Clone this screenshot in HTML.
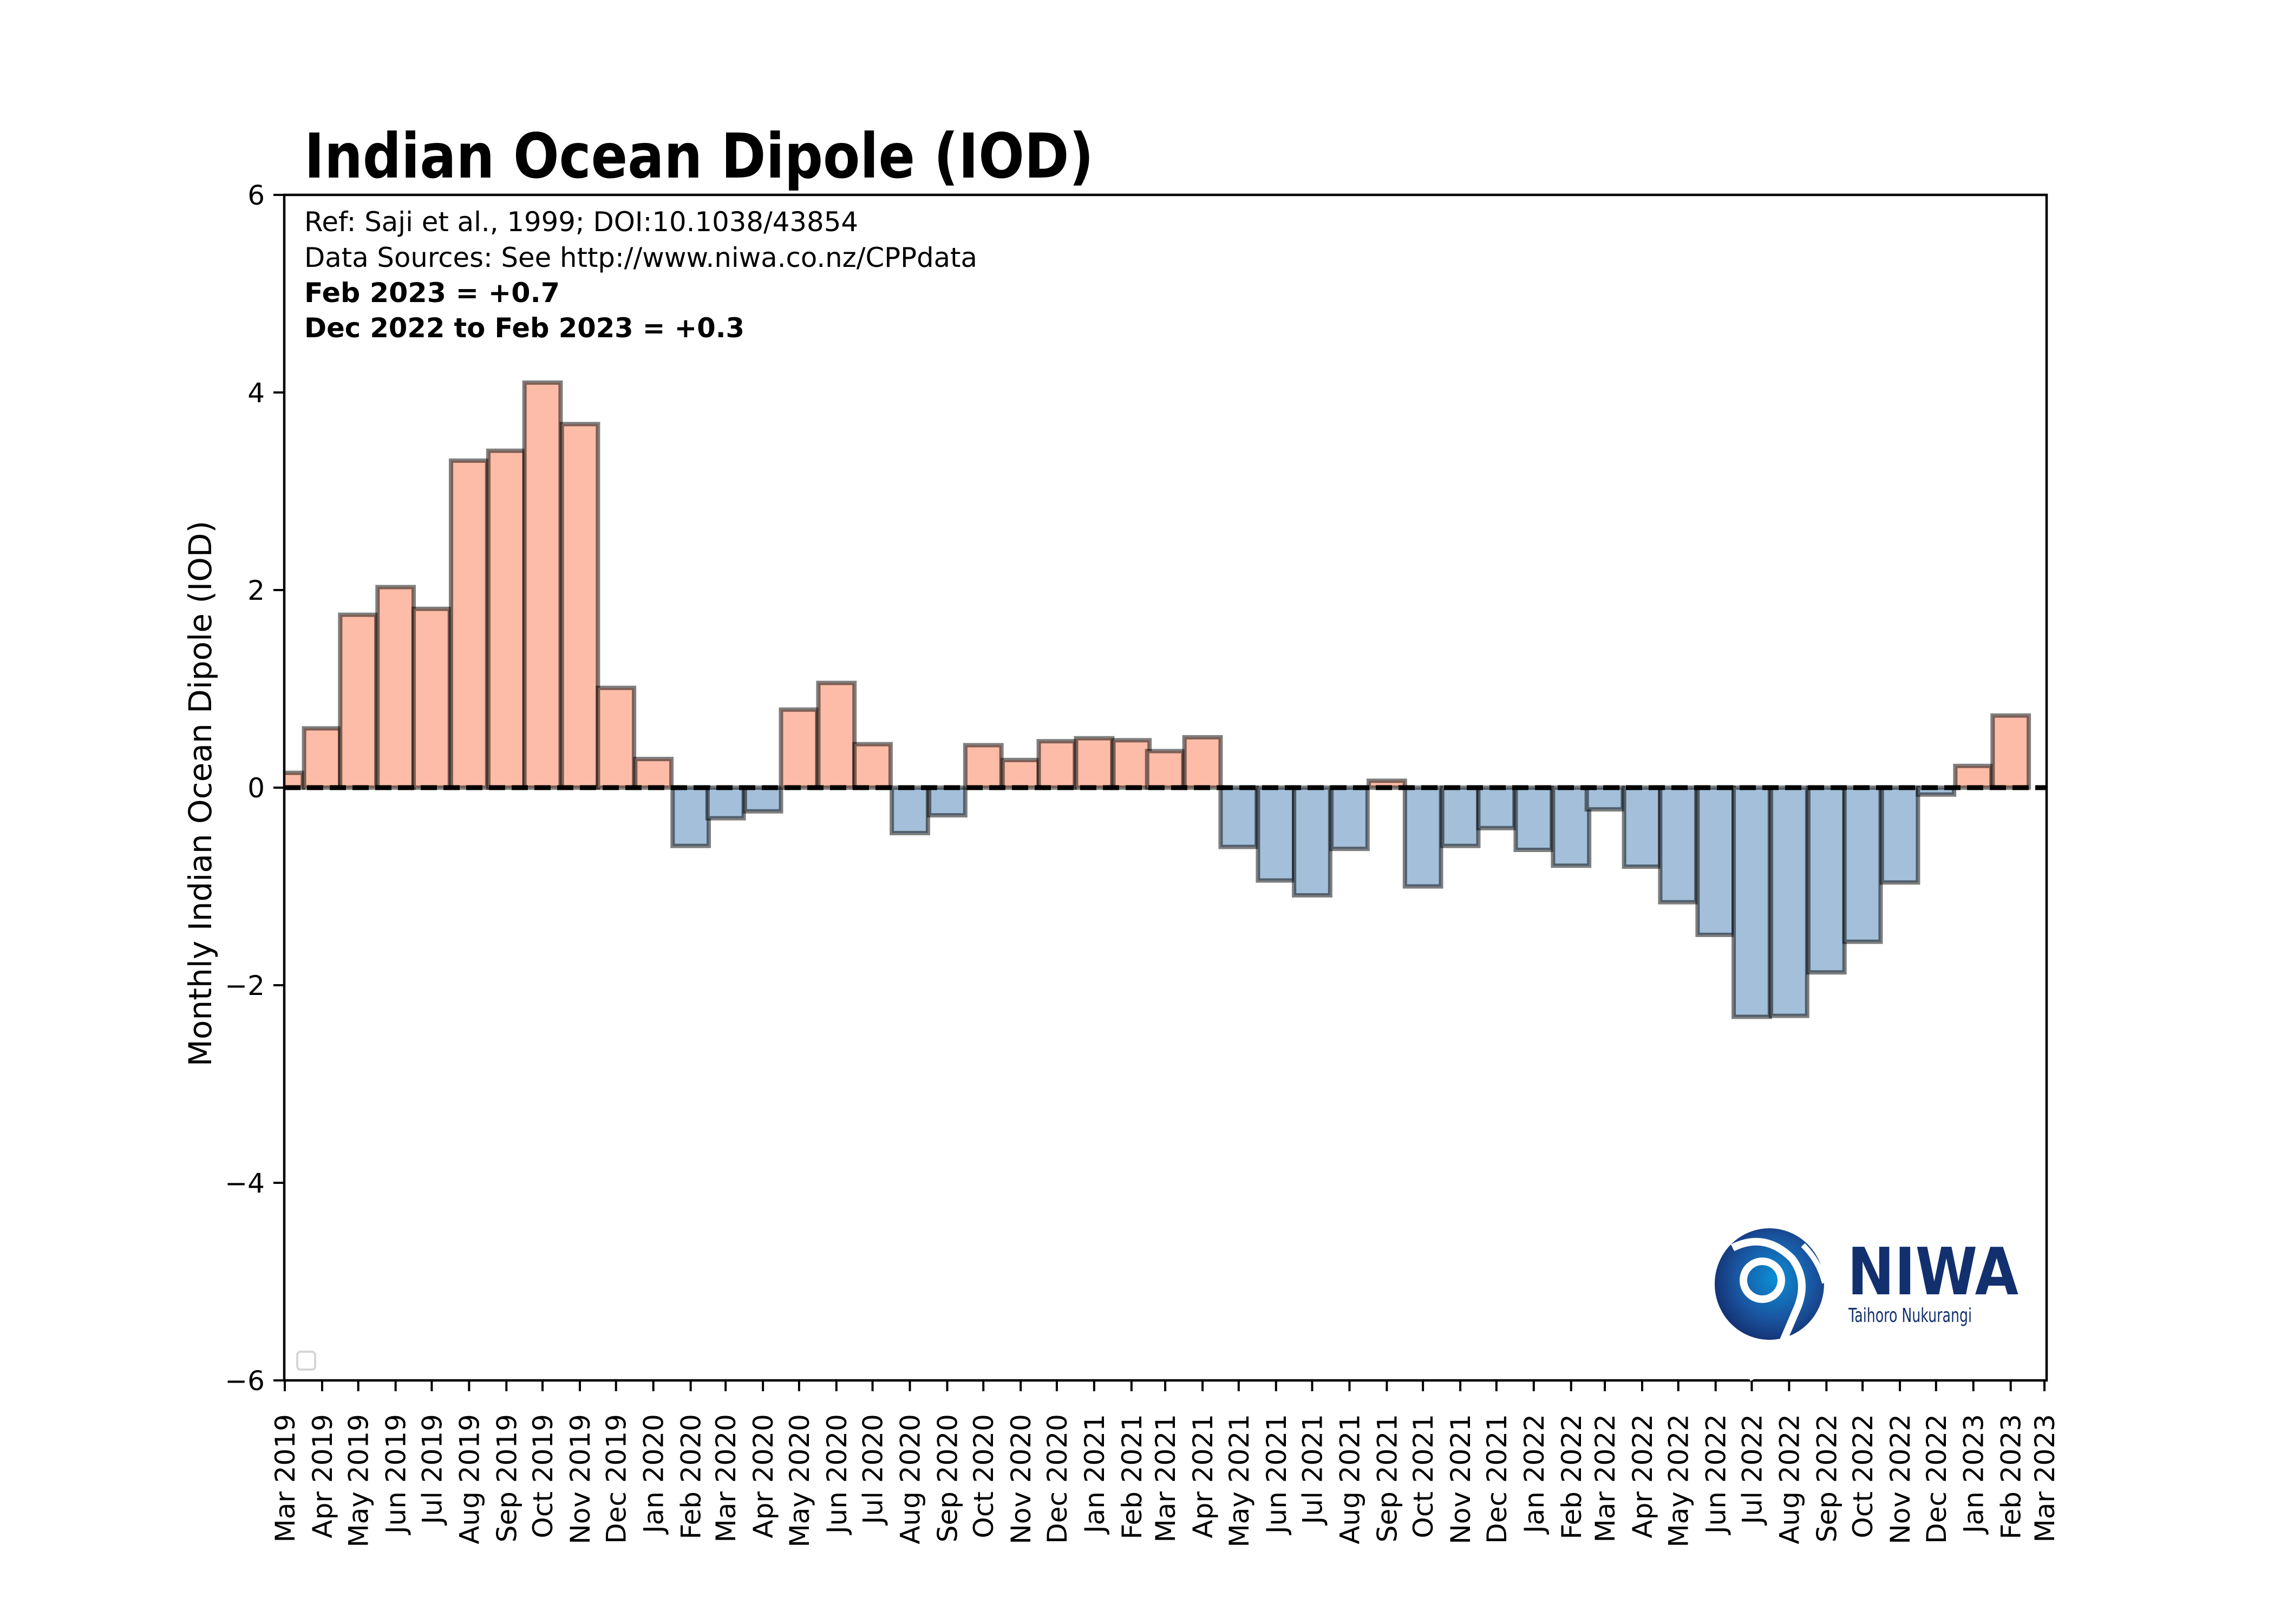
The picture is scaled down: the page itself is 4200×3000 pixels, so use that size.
<!DOCTYPE html>
<html><head><meta charset="utf-8"><title>Indian Ocean Dipole (IOD)</title>
<style>
html,body{margin:0;padding:0;background:#fff;}
svg{display:block;font-family:"DejaVu Sans","Liberation Sans",sans-serif;}
</style></head>
<body>
<svg id="chart" width="4200" height="3000" viewBox="0 0 4200 3000" xmlns="http://www.w3.org/2000/svg">
  <rect x="0" y="0" width="4200" height="3000" fill="#fff"/>
  <text x="562" y="328" font-size="114" font-weight="bold" textLength="1458" lengthAdjust="spacingAndGlyphs">Indian Ocean Dipole (IOD)</text>
  <g id="bars"></g>
  <line id="zeroLine" x1="525" x2="3780" stroke="#000" stroke-width="9" stroke-dasharray="30,12"/>
  <rect x="525" y="360" width="3255" height="2190" fill="none" stroke="#000" stroke-width="4.5"/>
  <g id="yticks"></g>
  <g id="xticks"></g>
  <text transform="translate(390,1466) rotate(-90)" text-anchor="middle" font-size="58">Monthly Indian Ocean Dipole (IOD)</text>
  <g font-size="50">
    <text x="562" y="427" textLength="1023" lengthAdjust="spacingAndGlyphs">Ref: Saji et al., 1999; DOI:10.1038/43854</text>
    <text x="562" y="493" textLength="1243" lengthAdjust="spacingAndGlyphs">Data Sources: See http://www.niwa.co.nz/CPPdata</text>
    <text x="562" y="558" font-weight="bold" textLength="472" lengthAdjust="spacingAndGlyphs">Feb 2023 = +0.7</text>
    <text x="562" y="623" font-weight="bold" textLength="813" lengthAdjust="spacingAndGlyphs">Dec 2022 to Feb 2023 = +0.3</text>
  </g>
  <rect x="549" y="2497" width="33" height="33" rx="6" fill="#fff" stroke="#d5d5d5" stroke-width="4"/>
  <g>
    <defs>
      <radialGradient id="lg" cx="0.55" cy="0.45" r="0.6">
        <stop offset="0" stop-color="#0a8fd6"/>
        <stop offset="0.6" stop-color="#1a55a0"/>
        <stop offset="1" stop-color="#132d6e"/>
      </radialGradient>
    </defs>
    <ellipse cx="3268" cy="2372" rx="101" ry="103" fill="url(#lg)"/>
    <path d="M3200 2305 q60 -30 110 20 q30 40 10 90 l-30 70 q-20 40 -60 60" fill="none" stroke="#fff" stroke-width="14"/>
    <circle cx="3255" cy="2365" r="35" fill="none" stroke="#fff" stroke-width="14"/>
    <path d="M3330 2300 q30 30 40 70" fill="none" stroke="#fff" stroke-width="10"/>
    <text x="3412" y="2391" font-size="120" font-weight="bold" fill="#13306e" textLength="316" lengthAdjust="spacingAndGlyphs">NIWA</text>
    <text x="3414" y="2442" font-size="36" fill="#13306e" textLength="228" lengthAdjust="spacingAndGlyphs">Taihoro Nukurangi</text>
  </g>
</svg>
<script>
const months = ["2019-03","2019-04","2019-05","2019-06","2019-07","2019-08","2019-09","2019-10","2019-11","2019-12",
"2020-01","2020-02","2020-03","2020-04","2020-05","2020-06","2020-07","2020-08","2020-09","2020-10","2020-11","2020-12",
"2021-01","2021-02","2021-03","2021-04","2021-05","2021-06","2021-07","2021-08","2021-09","2021-10","2021-11","2021-12",
"2022-01","2022-02","2022-03","2022-04","2022-05","2022-06","2022-07","2022-08","2022-09","2022-10","2022-11","2022-12",
"2023-01","2023-02"];
const iodValues = [0.15,0.6,1.75,2.03,1.81,3.31,3.41,4.10,3.68,1.01,
0.29,-0.59,-0.31,-0.24,0.79,1.06,0.44,-0.46,-0.28,0.43,0.28,0.47,
0.50,0.48,0.37,0.51,-0.60,-0.94,-1.09,-0.62,0.07,-1.0,-0.59,-0.41,
-0.63,-0.79,-0.22,-0.8,-1.16,-1.49,-2.32,-2.31,-1.87,-1.56,-0.96,-0.07,
0.22,0.73];
const yTicks = [-6,-4,-2,0,2,4,6];
const xTickDates = ["2019-03","2019-04","2019-05","2019-06","2019-07","2019-08","2019-09","2019-10","2019-11","2019-12",
"2020-01","2020-02","2020-03","2020-04","2020-05","2020-06","2020-07","2020-08","2020-09","2020-10","2020-11","2020-12",
"2021-01","2021-02","2021-03","2021-04","2021-05","2021-06","2021-07","2021-08","2021-09","2021-10","2021-11","2021-12",
"2022-01","2022-02","2022-03","2022-04","2022-05","2022-06","2022-07","2022-08","2022-09","2022-10","2022-11","2022-12",
"2023-01","2023-02","2023-03"];
const monthNames = ["Jan","Feb","Mar","Apr","May","Jun","Jul","Aug","Sep","Oct","Nov","Dec"];

const NS = "http://www.w3.org/2000/svg";
const PL = 525, PR = 3780, PT = 360, PB = 2550;
const Y0 = -6, Y1 = 6;
const T0 = Date.UTC(2019,2,1), DAY = 86400000, PXDAY = 2.2245, X0 = 526;
function toDate(s){ const p = s.split("-"); return Date.UTC(+p[0], +p[1]-1, 1); }
function xScale(s){ return X0 + (toDate(s) - T0) / DAY * PXDAY; }
function yScale(v){ return PT + (Y1 - v) / (Y1 - Y0) * (PB - PT); }
function mk(tag, attrs){ const e = document.createElementNS(NS, tag); for (const k in attrs) e.setAttribute(k, attrs[k]); return e; }

const barsG = document.getElementById("bars");
const clip = mk("clipPath", {id:"plotclip"});
clip.appendChild(mk("rect", {x:PL, y:PT, width:PR-PL, height:PB-PT}));
document.getElementById("chart").insertBefore(clip, barsG);
barsG.setAttribute("clip-path", "url(#plotclip)");
const bw = 30 * PXDAY;
months.forEach((m, i) => {
  const v = iodValues[i];
  const cx = xScale(m);
  const y = Math.min(yScale(v), yScale(0));
  const h = Math.abs(yScale(v) - yScale(0));
  const r = mk("rect", {x:cx - bw/2, y:y, width:bw, height:h,
    fill: v >= 0 ? "#fdbca7" : "#a3bfd9", stroke:"rgba(0,0,0,0.5)", "stroke-width":8});
  
  
  barsG.appendChild(r);
});
const zl = document.getElementById("zeroLine");
zl.setAttribute("y1", yScale(0)); zl.setAttribute("y2", yScale(0));

const yg = document.getElementById("yticks");
yTicks.forEach(t => {
  const y = yScale(t);
  const ln = mk("line", {x1:PL-20, x2:PL, y1:y, y2:y, stroke:"#000", "stroke-width":4});
  
  
  yg.appendChild(ln);
  const tx = mk("text", {x:PL-36, y:y+18, "text-anchor":"end", "font-size":50});
  
  
  tx.textContent = t < 0 ? "\u2212" + Math.abs(t) : String(t);
  yg.appendChild(tx);
});

const xg = document.getElementById("xticks");
xTickDates.forEach(d => {
  const x = xScale(d);
  const ln = mk("line", {x1:x, x2:x, y1:PB, y2:PB+20, stroke:"#000", "stroke-width":4});
  
  
  xg.appendChild(ln);
  const p = d.split("-");
  const tx = mk("text", {transform:"translate(" + (x+18) + "," + (PB+62) + ") rotate(-90)", "text-anchor":"end", "font-size":50});
  
  
  tx.textContent = monthNames[+p[1]-1] + " " + p[0];
  xg.appendChild(tx);
});
</script>
</body></html>
